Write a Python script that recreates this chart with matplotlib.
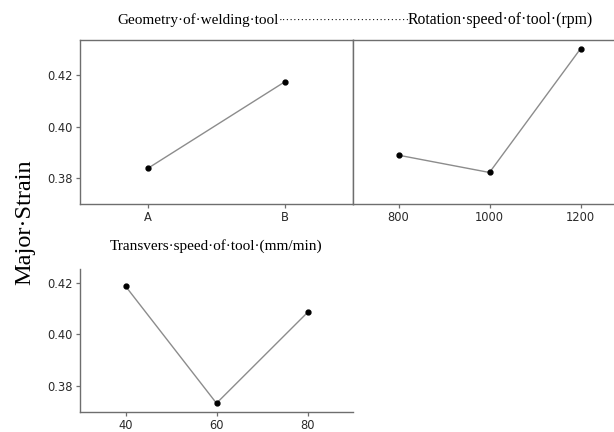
import matplotlib.pyplot as plt

# main effects for Major Strain
geom_levels = ["A", "B"]
geom_means = [0.3839, 0.4173]

rot_levels = [800, 1000, 1200]
rot_means = [0.3889, 0.3822, 0.4301]

trans_levels = [40, 60, 80]
trans_means = [0.4189, 0.3731, 0.4086]

yticks = [0.38, 0.40, 0.42]
line_col = "#8c8c8c"
spine_col = "#6e6e6e"
tick_font = dict(family="DejaVu Sans", size=8.3, color="#2a2a2a")

W, H = 614, 432
fig = plt.figure(figsize=(W / 100, H / 100), dpi=100)


def box(x0, y0, x1, y1):
    # pixel coords (top-left origin) -> figure fraction
    return [x0 / W, 1 - y1 / H, (x1 - x0) / W, (y1 - y0) / H]


def style(ax, left=True):
    for s in ax.spines.values():
        s.set_color(spine_col)
        s.set_linewidth(1.0)
    ax.tick_params(direction="out", length=3, width=0.9, color=spine_col,
                   labelsize=tick_font["size"], labelcolor=tick_font["color"], pad=2)
    for lab in ax.get_xticklabels() + ax.get_yticklabels():
        lab.set_family(tick_font["family"])
    if not left:
        ax.tick_params(axis="y", left=False, labelleft=False)


ax1 = fig.add_axes(box(80, 40, 353, 204))
ax1.plot(range(len(geom_levels)), geom_means, color=line_col, lw=1.0,
         marker="o", ms=3.5, mfc="black", mec="black")
ax1.set_xlim(-0.5, 1.5)
ax1.set_ylim(0.370, 0.4335)
ax1.set_xticks(range(len(geom_levels)))
ax1.set_xticklabels(geom_levels)
ax1.set_yticks(yticks)
ax1.set_yticklabels([f"{v:.2f}" for v in yticks])
style(ax1)

ax2 = fig.add_axes(box(353, 40, 626, 204))
ax2.plot(rot_levels, rot_means, color=line_col, lw=1.0,
         marker="o", ms=3.5, mfc="black", mec="black")
ax2.set_xlim(700, 1300)
ax2.set_ylim(0.370, 0.4335)
ax2.set_xticks(rot_levels)
ax2.set_yticks(yticks)
style(ax2, left=False)

ax3 = fig.add_axes(box(80, 269, 353, 411.7))
ax3.plot(trans_levels, trans_means, color=line_col, lw=1.0,
         marker="o", ms=3.5, mfc="black", mec="black")
ax3.set_xlim(30, 90)
ax3.set_ylim(0.3698, 0.4256)
ax3.set_xticks(trans_levels)
ax3.set_yticks(yticks)
ax3.set_yticklabels([f"{v:.2f}" for v in yticks])
ax3.spines["top"].set_visible(False)
ax3.spines["right"].set_visible(False)
style(ax3)

serif = "Liberation Serif"
ty = 1 - 20 / H
fig.text(117 / W, ty, "Geometry·of·welding·tool", family=serif,
         fontsize=11, ha="left", va="center")
fig.text(279 / W, ty, "·" * 35, family=serif,
         fontsize=8, ha="left", va="center")
fig.text(408 / W, ty, "Rotation·speed·of·tool·(rpm)", family=serif,
         fontsize=11.3, ha="left", va="center")
fig.text(216 / W, 1 - 246 / H, "Transvers·speed·of·tool·(mm/min)", family=serif,
         fontsize=11, ha="center", va="center")
fig.text(25 / W, 1 - 222 / H, "Major·Strain", family=serif, fontsize=17.5,
         rotation=90, ha="center", va="center")

fig.savefig("out.png", dpi=100)
